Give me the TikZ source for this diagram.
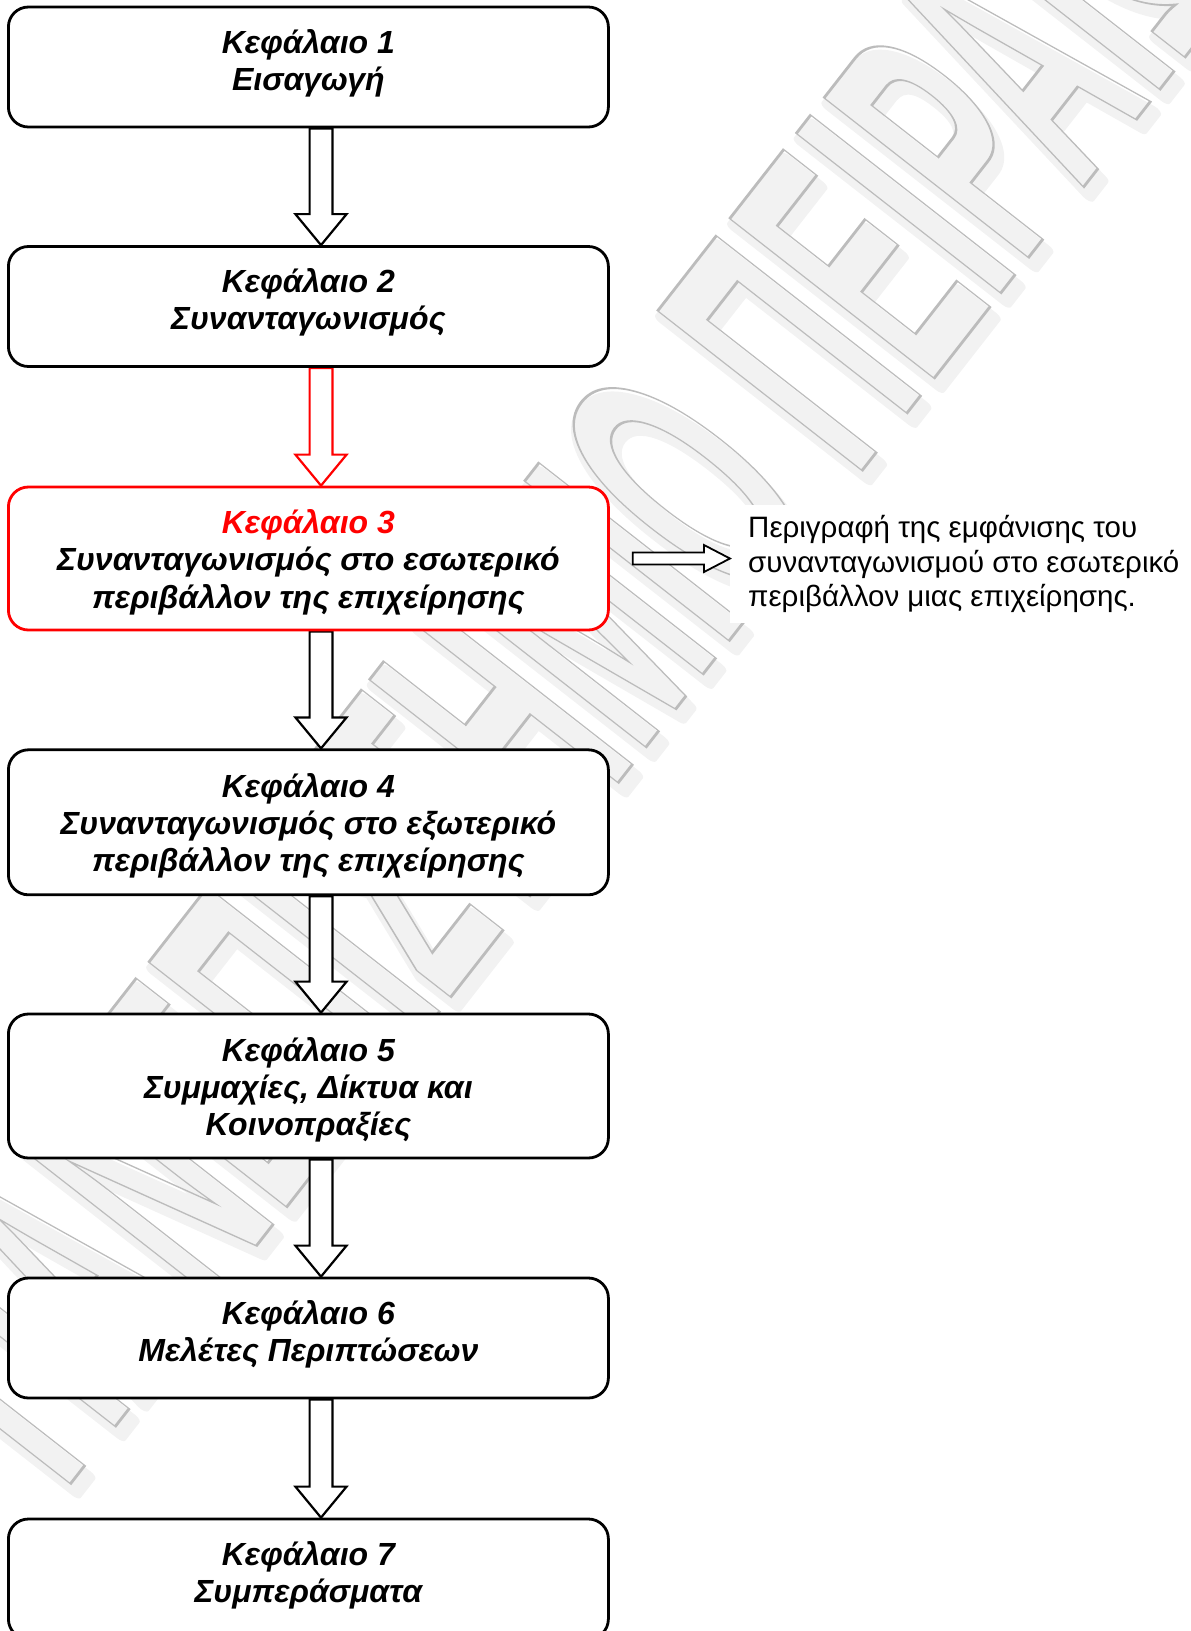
\documentclass[tikz,border=0pt]{standalone}
\usepackage{fontspec}
\setmainfont{Liberation Sans}
\usetikzlibrary{calc,backgrounds}
\definecolor{wmgray}{RGB}{188,188,188}
\definecolor{wmhaze}{RGB}{242,242,242}

% hollow block arrow pointing down, from the bottom of one box to the top of the next
\newcommand\flowarrow[3][black]{%
  \path[hollow, draw=#1] let \p1=(#2.south), \p2=(#3.north) in
    (\x1+1.2pt,\y1) -- (\x1+1.2pt,\y2+31pt) -- (\x1-13pt,\y2+31pt) --
    (\x1+12.6pt,\y2) --
    (\x1+38.2pt,\y2+31pt) -- (\x1+24pt,\y2+31pt) -- (\x1+24pt,\y1) -- cycle;}

% outlined (stroked, unfilled) text
\newcommand\outlined[1]{\special{pdf:literal direct 1 Tr 2.8 w}#1\special{pdf:literal direct 0 Tr}}
% thickened filled text for the soft shadow
\newcommand\thickened[1]{\special{pdf:literal direct 2 Tr 16 w 1 j}#1\special{pdf:literal direct 0 Tr}}
\newcommand\wmtext{ΠΑΝΕΠΙΣΤΗΜΙΟ ΠΕΙΡΑΙΩΣ}

\begin{document}
\begin{tikzpicture}[x=1pt,y=-1pt,
  chapterbox/.style={draw=black, line width=2.8pt, rounded corners=20pt, fill=white,
    minimum width=600pt, inner sep=0pt},
  chaptertext/.style={align=center, inner sep=0pt,
    font=\fontsize{32}{37.2}\selectfont\bfseries\itshape},
  hollow/.style={line width=2.2pt, fill=white, line join=miter},
  note/.style={fill=white, align=left, inner xsep=18pt, inner ysep=10pt,
    font=\fontsize{29.5}{34.5}\selectfont},
  watermark/.style={rotate=52, xscale=0.43, inner sep=0pt,
    font=\fontsize{377}{377}\selectfont\bfseries}]

\useasboundingbox (0,0) rectangle (1191,1631);
\clip (0,0) rectangle (1191,1631);

% chapter boxes
\node[chapterbox, minimum height=120pt] (c1) at (308.4,67) {};
\node[chapterbox, minimum height=120pt] (c2) at (308.4,306.5) {};
\node[chapterbox, draw=red, minimum height=143pt] (c3) at (308.4,558.5) {};
\node[chapterbox, minimum height=145pt] (c4) at (308.4,822.3) {};
\node[chapterbox, minimum height=144pt] (c5) at (308.4,1086) {};
\node[chapterbox, minimum height=120pt] (c6) at (308.4,1338) {};
\node[chapterbox, minimum height=120pt] (c7) at (308.4,1579) {};

% chapter titles
\node[chaptertext] (t1) at ($(c1.center)+(0,-4)$) {Κεφάλαιο 1\\Εισαγωγή};
\node[chaptertext] (t2) at ($(c2.center)+(0,-4)$) {Κεφάλαιο 2\\Συνανταγωνισμός};
\node[chaptertext] (t3) at ($(c3.center)+(0,3.8)$)
  {\textcolor{red}{Κεφάλαιο 3}\\Συνανταγωνισμός στο εσωτερικό\\περιβάλλον της επιχείρησης};
\node[chaptertext] (t4) at ($(c4.center)+(0,3.8)$)
  {Κεφάλαιο 4\\Συνανταγωνισμός στο εξωτερικό\\περιβάλλον της επιχείρησης};
\node[chaptertext] (t5) at ($(c5.center)+(0,3.8)$)
  {Κεφάλαιο 5\\Συμμαχίες, Δίκτυα και\\Κοινοπραξίες};
\node[chaptertext] (t6) at ($(c6.center)+(0,-4)$) {Κεφάλαιο 6\\Μελέτες Περιπτώσεων};
\node[chaptertext] (t7) at ($(c7.center)+(0,-4)$) {Κεφάλαιο 7\\Συμπεράσματα};

% description of chapter 3
\node[note, anchor=west] (desc) at (730,564)
  {Περιγραφή της εμφάνισης του\\συνανταγωνισμού στο εσωτερικό\\περιβάλλον μιας επιχείρησης.};

\begin{pgfonlayer}{background}
  % watermark: soft shadow, then outline
  \node[watermark, text=wmhaze] (wmshadow) at (594,617) {\thickened{\wmtext}};
  \node[watermark, text=wmgray] (wm) at (590,608) {\outlined{\wmtext}};
  % connectors between chapters
  \flowarrow{c1}{c2}
  \flowarrow[red]{c2}{c3}
  \flowarrow{c3}{c4}
  \flowarrow{c4}{c5}
  \flowarrow{c5}{c6}
  \flowarrow{c6}{c7}
\end{pgfonlayer}

% arrow to the description
\path[hollow, draw=black, line width=1.8pt] let \p1=($(c3.east)+(23,0)$), \p2=(desc.west) in
  (\x1,\y1+6pt) -- (\x2-26pt,\y1+6pt) -- (\x2-26pt,\y1+13.5pt) -- (\x2,\y1) --
  (\x2-26pt,\y1-13.5pt) -- (\x2-26pt,\y1-6pt) -- (\x1,\y1-6pt) -- cycle;
\end{tikzpicture}
\end{document}
